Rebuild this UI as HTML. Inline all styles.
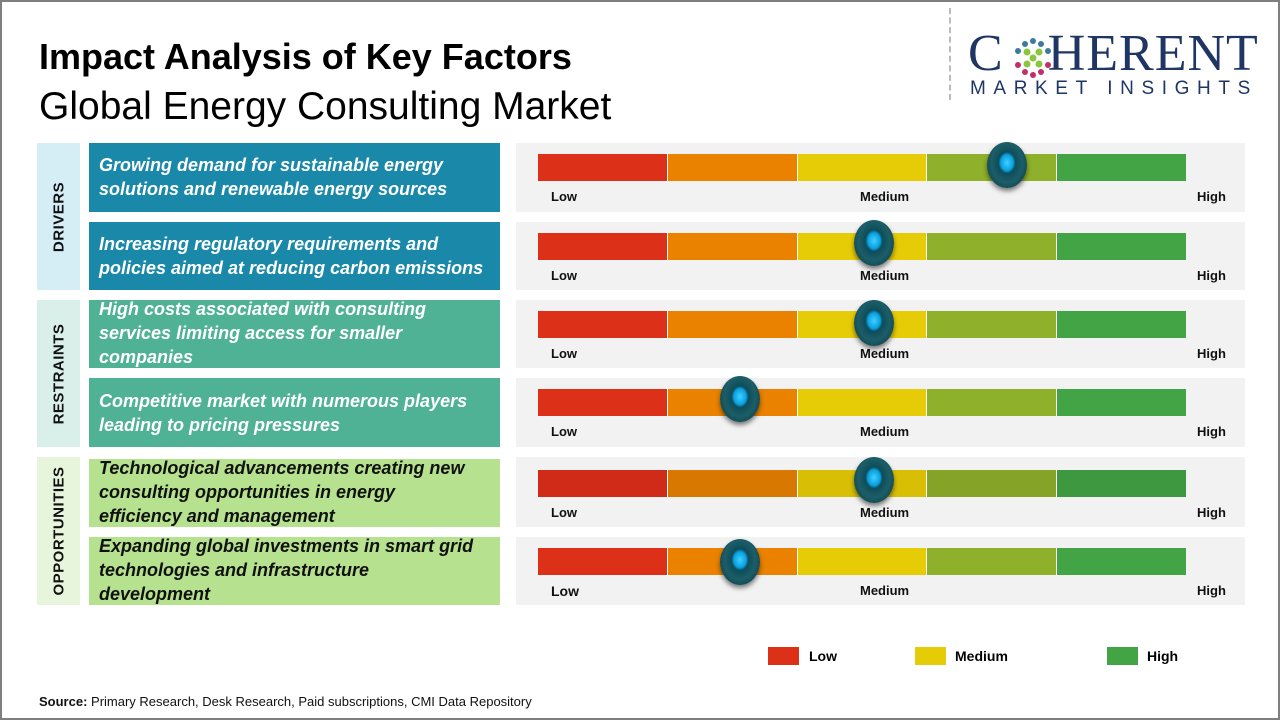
<!DOCTYPE html>
<html><head><style>
*{margin:0;padding:0;box-sizing:border-box}
body{width:1280px;height:720px;position:relative;background:#fff;font-family:"Liberation Sans",sans-serif;overflow:hidden}
.frame{position:absolute;left:0;top:0;width:1280px;height:720px;border:2px solid #7f7f7f}
.a{position:absolute}
.cat{position:absolute;left:37px;width:43px}
.cat span{position:absolute;left:50%;top:50%;transform:translate(-50%,-50%) rotate(-90deg);font-weight:bold;font-size:15px;letter-spacing:0.5px;white-space:nowrap;color:#111}
.tb{position:absolute;left:89px;width:411px;font-style:italic;font-weight:bold;font-size:18px;line-height:24px;padding-left:10px;display:flex;align-items:center;white-space:nowrap;overflow:hidden}
.panel{position:absolute;left:516px;width:729px;background:#f2f2f2}
.bar{position:absolute;left:22px;top:11px;height:27px;width:648px;display:flex}
.bar div{flex:1;border-right:1.5px solid #fff}
.bar div:last-child{border-right:none}
.lbl{position:absolute;top:46px;font-size:13px;font-weight:bold;color:#111}
.knob{position:absolute;width:40px;height:46px;border-radius:50%;background:radial-gradient(ellipse at 50% 45%,#3fd0ff 0,#0aa0e0 22%,#0d4d5a 30%,#1c5e68 55%,#0a2e36 100%);box-shadow:0 3px 5px rgba(0,0,0,.5)}
</style></head><body>
<div class="frame"></div>
<div class="a" style="left:39px;top:36px;font-size:36px;font-weight:bold;color:#000">Impact Analysis of Key Factors</div>
<div class="a" style="left:39px;top:85px;font-size:39px;color:#000">Global Energy Consulting Market</div>
<div class="a" style="left:949px;top:8px;height:92px;border-left:2px dashed #bbb"></div>
<div class="a" style="left:968px;top:26px;font-family:'Liberation Serif',serif;font-size:52px;color:#1f3564;letter-spacing:1px;line-height:56px">C<span style="display:inline-block;width:44px"></span>HERENT</div>
<svg class="a" style="left:1012px;top:37px" width="42" height="42" viewBox="0 0 42 42">
<g fill="#3d7aa0"><circle cx="21" cy="4" r="3"/><circle cx="13" cy="7" r="3"/><circle cx="29" cy="7" r="3"/><circle cx="6" cy="14" r="3"/><circle cx="36" cy="14" r="3"/></g>
<g fill="#8cc63f"><circle cx="15" cy="15" r="3.5"/><circle cx="27" cy="15" r="3.5"/><circle cx="21" cy="21" r="3.5"/><circle cx="15" cy="27" r="3.5"/><circle cx="27" cy="27" r="3.5"/></g>
<g fill="#c0306a"><circle cx="6" cy="28" r="3"/><circle cx="36" cy="28" r="3"/><circle cx="13" cy="35" r="3"/><circle cx="29" cy="35" r="3"/><circle cx="21" cy="38" r="3"/></g>
</svg>
<div class="a" style="left:970px;top:78px;font-size:19px;color:#1f3564;letter-spacing:7.6px">MARKET INSIGHTS</div>

<div class="cat" style="top:143px;height:147px;background:#d5eef6"><span>DRIVERS</span></div>
<div class="cat" style="top:300px;height:147px;background:#d8efea"><span>RESTRAINTS</span></div>
<div class="cat" style="top:457px;height:148px;background:#e6f5dc"><span>OPPORTUNITIES</span></div>

<div class="tb" style="top:143px;height:69px;background:#1a88a9;color:#fff;padding-bottom:2px">Growing demand for sustainable energy<br>solutions and renewable energy sources</div>
<div class="tb" style="top:222px;height:68px;background:#1a88a9;color:#fff">Increasing regulatory requirements and<br>policies aimed at reducing carbon emissions</div>
<div class="tb" style="top:300px;height:68px;background:#4fb294;color:#fff"><div style="margin-top:-2px">High costs associated with consulting<br>services limiting access for smaller<br>companies</div></div>
<div class="tb" style="top:378px;height:69px;background:#4fb294;color:#fff">Competitive market with numerous players<br>leading to pricing pressures</div>
<div class="tb" style="top:459px;height:68px;background:#b6e28f;color:#111"><div style="margin-top:-2px">Technological advancements creating new<br>consulting opportunities in energy<br>efficiency and management</div></div>
<div class="tb" style="top:537px;height:68px;background:#b6e28f;color:#111"><div style="margin-top:-2px">Expanding global investments in smart grid<br>technologies and infrastructure<br>development</div></div>

<div class="panel" style="top:143px;height:69px"><div class="bar"><div style="background:#dd3019"></div><div style="background:#ea8200"></div><div style="background:#e6cb07"></div><div style="background:#8fb02a"></div><div style="background:#43a446"></div></div><span class="lbl" style="left:35px">Low</span><span class="lbl" style="left:344px">Medium</span><span class="lbl" style="left:681px">High</span></div>
<div class="panel" style="top:222px;height:68px"><div class="bar"><div style="background:#dd3019"></div><div style="background:#ea8200"></div><div style="background:#e6cb07"></div><div style="background:#8fb02a"></div><div style="background:#43a446"></div></div><span class="lbl" style="left:35px">Low</span><span class="lbl" style="left:344px">Medium</span><span class="lbl" style="left:681px">High</span></div>
<div class="panel" style="top:300px;height:68px"><div class="bar"><div style="background:#dd3019"></div><div style="background:#ea8200"></div><div style="background:#e6cb07"></div><div style="background:#8fb02a"></div><div style="background:#43a446"></div></div><span class="lbl" style="left:35px">Low</span><span class="lbl" style="left:344px">Medium</span><span class="lbl" style="left:681px">High</span></div>
<div class="panel" style="top:378px;height:69px"><div class="bar"><div style="background:#dd3019"></div><div style="background:#ea8200"></div><div style="background:#e6cb07"></div><div style="background:#8fb02a"></div><div style="background:#43a446"></div></div><span class="lbl" style="left:35px">Low</span><span class="lbl" style="left:344px">Medium</span><span class="lbl" style="left:681px">High</span></div>
<div class="panel" style="top:457px;height:70px"><div class="bar" style="top:13px"><div style="background:#d02a18"></div><div style="background:#d97800"></div><div style="background:#d8bf06"></div><div style="background:#85a327"></div><div style="background:#3d9840"></div></div><span class="lbl" style="left:35px;top:48px">Low</span><span class="lbl" style="left:344px;top:48px">Medium</span><span class="lbl" style="left:681px;top:48px">High</span></div>
<div class="panel" style="top:537px;height:68px"><div class="bar"><div style="background:#dd3019"></div><div style="background:#ea8200"></div><div style="background:#e6cb07"></div><div style="background:#8fb02a"></div><div style="background:#43a446"></div></div><span class="lbl" style="left:35px;top:46px;font-size:14px">Low</span><span class="lbl" style="left:344px">Medium</span><span class="lbl" style="left:681px">High</span></div>

<div class="knob" style="left:987px;top:142px"></div>
<div class="knob" style="left:854px;top:220px"></div>
<div class="knob" style="left:854px;top:300px"></div>
<div class="knob" style="left:720px;top:376px"></div>
<div class="knob" style="left:854px;top:457px"></div>
<div class="knob" style="left:720px;top:539px"></div>

<div class="a" style="left:768px;top:647px;width:31px;height:18px;background:#dd3019"></div>
<div class="a" style="left:809px;top:648px;font-size:14px;font-weight:bold">Low</div>
<div class="a" style="left:915px;top:647px;width:31px;height:18px;background:#e6cb07"></div>
<div class="a" style="left:955px;top:648px;font-size:14px;font-weight:bold">Medium</div>
<div class="a" style="left:1107px;top:647px;width:31px;height:18px;background:#43a446"></div>
<div class="a" style="left:1147px;top:648px;font-size:14px;font-weight:bold">High</div>

<div class="a" style="left:39px;top:694px;font-size:13px;color:#111"><b>Source:</b> Primary Research, Desk Research, Paid subscriptions, CMI Data Repository</div>
</body></html>
